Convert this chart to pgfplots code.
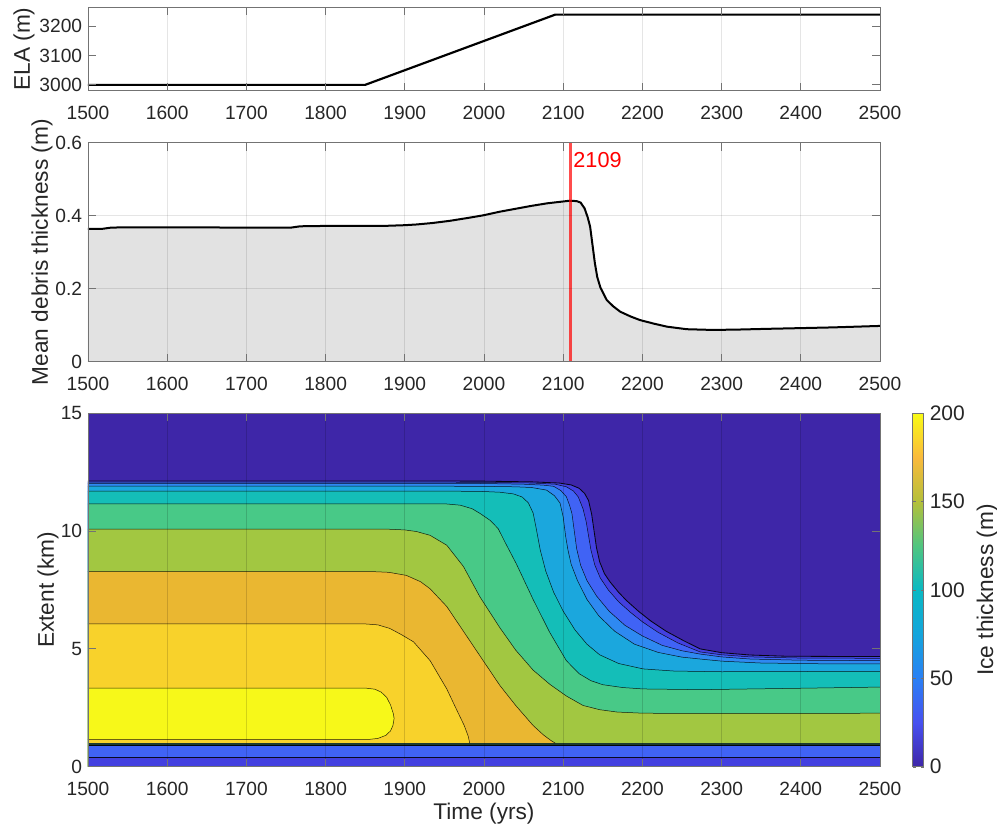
\documentclass[border=0pt]{standalone}
\usepackage{fontspec}
\setmainfont{Liberation Sans}
\usepackage{pgfplots}
\usepackage{pgfplotstable}
\pgfplotsset{compat=1.18}
\pgfkeys{/pgf/number format/assume math mode=true, /pgf/number format/1000 sep={}}

\definecolor{tickc}{HTML}{262626}
\definecolor{cz}{HTML}{3E26A8}
\definecolor{ca}{HTML}{4340E0}
\definecolor{cb}{HTML}{4063F5}
\definecolor{cc}{HTML}{2E89F1}
\definecolor{cd}{HTML}{1BA7DD}
\definecolor{ce}{HTML}{14BEB8}
\definecolor{cf}{HTML}{48C987}
\definecolor{cg}{HTML}{A2C741}
\definecolor{ch}{HTML}{EAB731}
\definecolor{ci}{HTML}{F8D22B}
\definecolor{cj}{HTML}{F7F819}
\definecolor{darkband}{HTML}{1B3A30}
\definecolor{debrisgray}{HTML}{E2E2E2}

\pgfplotsset{colormap={parula}{rgb255=(62,38,168) rgb255=(71,80,240) rgb255=(42,128,245) rgb255=(20,165,220) rgb255=(10,185,195) rgb255=(80,197,128) rgb255=(180,192,58) rgb255=(250,186,60) rgb255=(249,251,21)}}

\pgfplotsset{
 myaxis/.style={
  scale only axis, width=475.2pt, xmin=1500, xmax=2500,
  xtick={1500,1600,...,2500},
  axis line style={black!55, line width=0.5pt},
  tick style={black!55, line width=0.5pt},
  major tick length=4.7pt,
  tick align=inside,
  ticklabel style={font=\fontsize{11.5}{13}\selectfont, text=tickc},
  xticklabel style={yshift=-5.5pt},
  label style={font=\fontsize{13.6}{16}\selectfont, text=tickc},
  grid style={black, opacity=0.1, line width=0.5pt},
  axis on top,
  anchor=south west,
  scaled ticks=false,
 },
 cline/.style={black, line width=0.3pt, opacity=0.85},
}

% mean debris thickness
\pgfplotstableread{
x y
1500 0.364
1518 0.364
1528 0.367
1540 0.368
1600 0.368
1650 0.368
1700 0.367
1755 0.367
1768 0.371
1800 0.372
1873 0.372
1900 0.374
1915 0.376
1935 0.380
1957 0.386
1980 0.394
1999 0.401
2020 0.411
2040 0.419
2060 0.427
2080 0.434
2100 0.439
2108 0.441
2117 0.440
2122 0.436
2127 0.420
2131 0.395
2134 0.370
2137 0.320
2140 0.270
2143 0.232
2147 0.203
2155 0.169
2163 0.152
2172 0.137
2185 0.124
2197 0.114
2215 0.104
2231 0.096
2256 0.089
2289 0.087
2320 0.088
2357 0.090
2400 0.092
2441 0.094
2500 0.098
}\DEB

% contour boundaries (extent in km vs year)
\pgfplotstableread{
x y
1500 12.13
1900 12.13
2000 12.12
2060 12.09
2095 12.04
2110 11.96
2120 11.82
2127 11.6
2132 11.3
2136 10.7
2139 10.0
2142 9.3
2146 8.7
2152 8.2
2159 7.85
2170 7.4
2180 7.05
2195 6.6
2210 6.2
2230 5.75
2252 5.35
2273 5.0
2300 4.84
2336 4.74
2380 4.69
2440 4.68
2500 4.68
}\LA
\pgfplotstableread{
x y
1500 12.08
1900 12.08
2000 12.07
2060 12.04
2090 11.99
2104 11.88
2113 11.7
2119 11.45
2125 10.95
2129 10.4
2132 9.8
2135 9.2
2140 8.55
2147 8.0
2157 7.5
2170 7.0
2185 6.55
2200 6.15
2220 5.7
2245 5.25
2273 4.87
2300 4.75
2336 4.66
2400 4.61
2500 4.60
}\LB
\pgfplotstableread{
x y
1500 12.03
1900 12.03
2000 12.02
2050 11.99
2075 11.95
2088 11.9
2097 11.72
2104 11.46
2108 11.1
2111 10.75
2114 10.0
2117 9.25
2122 8.55
2130 7.9
2142 7.25
2158 6.6
2178 6.0
2200 5.55
2225 5.15
2250 4.92
2273 4.78
2300 4.66
2336 4.57
2400 4.52
2500 4.50
}\LC
\pgfplotstableread{
x y
1500 11.91
1900 11.91
2000 11.90
2040 11.88
2060 11.85
2079 11.74
2089 11.5
2096 11.19
2100 10.6
2103 9.8
2106 9.2
2110 8.6
2118 7.9
2130 7.1
2145 6.4
2165 5.75
2190 5.2
2220 4.85
2250 4.65
2273 4.57
2300 4.48
2350 4.40
2420 4.37
2500 4.36
}\LD
\pgfplotstableread{
x y
1500 11.70
1950 11.70
2000 11.68
2020 11.65
2037 11.58
2048 11.45
2056 11.2
2062 10.77
2066 10.1
2071 9.2
2078 8.3
2088 7.4
2100 6.6
2115 5.8
2130 5.2
2146 4.75
2170 4.38
2201 4.15
2240 4.06
2300 4.03
2400 4.04
2500 4.05
}\LE
\pgfplotstableread{
x y
1500 11.16
1950 11.16
1970 11.10
1985 10.95
1995 10.75
2008 10.45
2018 10.1
2027 9.5
2041 8.6
2062 7.1
2083 5.7
2104 4.5
2120 3.95
2135 3.65
2150 3.48
2175 3.36
2201 3.30
2273 3.27
2400 3.33
2500 3.38
}\LF
\pgfplotstableread{
x y
1500 10.08
1880 10.08
1900 10.05
1915 9.98
1932 9.82
1953 9.4
1974 8.5
1995 7.2
2020 5.9
2040 4.95
2062 4.1
2083 3.5
2104 3.0
2125 2.6
2146 2.42
2168 2.32
2201 2.27
2300 2.26
2500 2.27
}\LG
\pgfplotstableread{
x y
1500 8.28
1860 8.28
1880 8.25
1902 8.12
1920 7.85
1932 7.55
1953 6.8
1974 5.75
1995 4.7
2020 3.45
2040 2.6
2062 1.75
2075 1.35
2085 1.1
2090 1.0
}\LH
\pgfplotstableread{
x y
1500 6.06
1850 6.06
1866 6.02
1881 5.87
1896 5.6
1911 5.3
1932 4.5
1953 3.3
1965 2.45
1975 1.75
1980 1.3
1982 1.0
}\LI
\pgfplotstableread{
x y
1500 3.33
1852 3.33
1862 3.29
1870 3.17
1877 2.95
1882 2.62
1885.5 2.25
1886.5 2.05
1885 1.75
1882 1.52
1876 1.33
1866 1.20
1855 1.16
1500 1.16
}\LJ

\begin{document}
\begin{tikzpicture}
\useasboundingbox (0,0) rectangle (598.2pt,496.2pt);

% ---- ELA ----
\begin{axis}[myaxis, at={(52.8pt,441.78pt)}, height=50.04pt,
  ymin=2980, ymax=3265, ytick={3000,3100,3200}, xmajorgrids,
  ylabel={ELA (m)}, ylabel style={at={(axis description cs:-0.0808,0.5)}, anchor=center}]
\addplot[black, line width=1.3pt] coordinates {(1500,3000) (1850,3000) (2090,3240) (2500,3240)};
\end{axis}

% ---- debris ----
\begin{axis}[myaxis, at={(52.8pt,279.18pt)}, height=131.4pt,
  ymin=0, ymax=0.6, ytick={0,0.2,0.4,0.6}, xmajorgrids, ymajorgrids,
  yticklabel style={/pgf/number format/fixed},
  ylabel={Mean debris thickness (m)}, ylabel style={at={(axis description cs:-0.058,0.5)}, anchor=center}]
\addplot[fill=debrisgray, draw=none] table {\DEB} \closedcycle;
\addplot[black, line width=1.2pt] table {\DEB};
\addplot[red, line width=1.5pt, opacity=0.7] coordinates {(2109,0) (2109,0.6)};
\node[text=red, anchor=base west, inner sep=0pt, font=\fontsize{13}{15}\selectfont] at (axis cs:2112.5,0.5326) {2109};
\end{axis}

% ---- contour ----
\begin{axis}[myaxis, at={(52.8pt,36.18pt)}, height=212.04pt,
  ymin=0, ymax=15, ytick={0,5,10,15}, xmajorgrids,
  grid style={black, opacity=0.15, line width=0.5pt},
  xlabel={Time (yrs)}, xlabel style={at={(axis description cs:0.5,-0.148)}, anchor=base},
  ylabel={Extent (km)}, ylabel style={at={(axis description cs:-0.0505,0.5)}, anchor=center},
  colormap name=parula, point meta min=0, point meta max=200,
  colorbar,
  colorbar style={
    width=6.6pt,
    at={(parent axis.north east)}, anchor=north west, xshift=11.2pt,
    ytick={0,50,100,150,200},
    yticklabel style={font=\fontsize{12.6}{14}\selectfont, text=tickc},
    ylabel={Ice thickness (m)},
    ylabel style={font=\fontsize{13.6}{16}\selectfont, text=tickc, at={(axis description cs:6.75,0.5)}, anchor=center},
    axis line style={black!55, line width=0.5pt},
    tick style={black!55},
    major tick length=2pt,
  }]
\addplot[fill=cz, draw=none] coordinates {(1500,15) (2500,15)} \closedcycle;
\addplot[fill=ca, draw=none] table {\LA} \closedcycle;
\addplot[fill=cb, draw=none] table {\LB} \closedcycle;
\addplot[fill=cc, draw=none] table {\LC} \closedcycle;
\addplot[fill=cd, draw=none] table {\LD} \closedcycle;
\addplot[fill=ce, draw=none] table {\LE} \closedcycle;
\addplot[fill=cf, draw=none] table {\LF} \closedcycle;
\addplot[fill=cg, draw=none] table {\LG} \closedcycle;
\addplot[fill=ch, draw=none] table {\LH} \closedcycle;
\addplot[fill=ci, draw=none] table {\LI} \closedcycle;
\addplot[fill=cj, draw=none] table {\LJ} \closedcycle;
\addplot[fill=darkband, draw=none] coordinates {(1500,1.01) (2500,1.01)} \closedcycle;
\addplot[fill=cb, draw=none] coordinates {(1500,0.89) (2500,0.89)} \closedcycle;
\addplot[fill=ca, draw=none] coordinates {(1500,0.42) (2500,0.42)} \closedcycle;
\addplot[black, line width=0.5pt, opacity=0.9] table {\LA};
\addplot[cline] table {\LB};
\addplot[cline] table {\LC};
\addplot[cline] table {\LD};
\addplot[cline] table {\LE};
\addplot[cline] table {\LF};
\addplot[cline] table {\LG};
\addplot[cline] table {\LH};
\addplot[cline] table {\LI};
\addplot[cline] table {\LJ};
\addplot[cline] coordinates {(1500,0.42) (2500,0.42)};
\addplot[cline] coordinates {(1500,0.89) (2500,0.89)};
\end{axis}
\end{tikzpicture}
\end{document}
